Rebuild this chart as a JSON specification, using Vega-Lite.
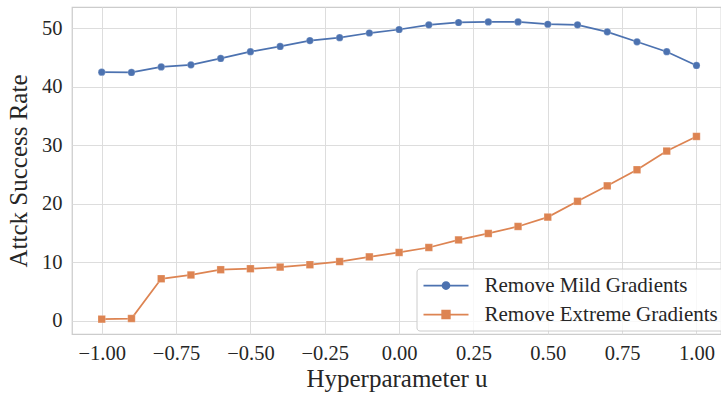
{
  "$schema": "https://vega.github.io/schema/vega-lite/v6.json",
  "width": 649,
  "height": 327,
  "autosize": {"type": "none"},
  "padding": {"left": 72, "top": 7, "right": 0, "bottom": 62},
  "background": "white",
  "config": {
    "font": "Times New Roman, Liberation Serif, serif",
    "view": {"stroke": "#cccccc", "strokeWidth": 1.25},
    "axis": {
      "domain": false,
      "ticks": false,
      "gridColor": "#dddddd",
      "gridWidth": 1,
      "labelColor": "#262626",
      "titleColor": "#262626",
      "labelFont": "Times New Roman, Liberation Serif, serif",
      "titleFont": "Times New Roman, Liberation Serif, serif",
      "labelFontSize": 20.5,
      "titleFontSize": 25,
      "titleFontWeight": "normal"
    },
    "legend": {
      "labelFont": "Times New Roman, Liberation Serif, serif"
    }
  },
  "data": {
    "values": [
      {"u": -1.0, "series": "Remove Mild Gradients", "value": 42.5},
      {"u": -0.9, "series": "Remove Mild Gradients", "value": 42.45},
      {"u": -0.8, "series": "Remove Mild Gradients", "value": 43.4},
      {"u": -0.7, "series": "Remove Mild Gradients", "value": 43.75},
      {"u": -0.6, "series": "Remove Mild Gradients", "value": 44.85},
      {"u": -0.5, "series": "Remove Mild Gradients", "value": 46.0},
      {"u": -0.4, "series": "Remove Mild Gradients", "value": 46.9},
      {"u": -0.3, "series": "Remove Mild Gradients", "value": 47.9},
      {"u": -0.2, "series": "Remove Mild Gradients", "value": 48.4},
      {"u": -0.1, "series": "Remove Mild Gradients", "value": 49.2},
      {"u": 0.0, "series": "Remove Mild Gradients", "value": 49.8},
      {"u": 0.1, "series": "Remove Mild Gradients", "value": 50.6},
      {"u": 0.2, "series": "Remove Mild Gradients", "value": 51.0},
      {"u": 0.3, "series": "Remove Mild Gradients", "value": 51.1},
      {"u": 0.4, "series": "Remove Mild Gradients", "value": 51.1},
      {"u": 0.5, "series": "Remove Mild Gradients", "value": 50.7},
      {"u": 0.6, "series": "Remove Mild Gradients", "value": 50.6},
      {"u": 0.7, "series": "Remove Mild Gradients", "value": 49.4},
      {"u": 0.8, "series": "Remove Mild Gradients", "value": 47.7},
      {"u": 0.9, "series": "Remove Mild Gradients", "value": 46.0},
      {"u": 1.0, "series": "Remove Mild Gradients", "value": 43.65},
      {"u": -1.0, "series": "Remove Extreme Gradients", "value": 0.24},
      {"u": -0.9, "series": "Remove Extreme Gradients", "value": 0.35},
      {"u": -0.8, "series": "Remove Extreme Gradients", "value": 7.15},
      {"u": -0.7, "series": "Remove Extreme Gradients", "value": 7.8},
      {"u": -0.6, "series": "Remove Extreme Gradients", "value": 8.7},
      {"u": -0.5, "series": "Remove Extreme Gradients", "value": 8.87},
      {"u": -0.4, "series": "Remove Extreme Gradients", "value": 9.15},
      {"u": -0.3, "series": "Remove Extreme Gradients", "value": 9.55},
      {"u": -0.2, "series": "Remove Extreme Gradients", "value": 10.1},
      {"u": -0.1, "series": "Remove Extreme Gradients", "value": 10.9},
      {"u": 0.0, "series": "Remove Extreme Gradients", "value": 11.65},
      {"u": 0.1, "series": "Remove Extreme Gradients", "value": 12.5},
      {"u": 0.2, "series": "Remove Extreme Gradients", "value": 13.8},
      {"u": 0.3, "series": "Remove Extreme Gradients", "value": 14.9},
      {"u": 0.4, "series": "Remove Extreme Gradients", "value": 16.1},
      {"u": 0.5, "series": "Remove Extreme Gradients", "value": 17.7},
      {"u": 0.6, "series": "Remove Extreme Gradients", "value": 20.4},
      {"u": 0.7, "series": "Remove Extreme Gradients", "value": 23.05},
      {"u": 0.8, "series": "Remove Extreme Gradients", "value": 25.8},
      {"u": 0.9, "series": "Remove Extreme Gradients", "value": 29.0},
      {"u": 1.0, "series": "Remove Extreme Gradients", "value": 31.5}
    ]
  },
  "encoding": {
    "x": {
      "field": "u", "type": "quantitative",
      "scale": {"domain": [-1.1, 1.0825], "nice": false, "zero": false},
      "axis": {"values": [-1, -0.75, -0.5, -0.25, 0, 0.25, 0.5, 0.75, 1], "format": ".2f", "labelPadding": 9, "titlePadding": 3, "title": "Hyperparameter u", "labelFlush": false}
    },
    "y": {
      "field": "value", "type": "quantitative",
      "scale": {"domain": [-2.3, 53.65], "nice": false, "zero": false},
      "axis": {"values": [0, 10, 20, 30, 40, 50], "labelPadding": 10, "titlePadding": 10, "title": "Attck Success Rate"}
    }
  },
  "layer": [
    {
      "mark": {"type": "line", "strokeWidth": 1.75},
      "encoding": {
        "color": {
          "field": "series", "type": "nominal",
          "scale": {"domain": ["Remove Mild Gradients", "Remove Extreme Gradients"], "range": ["#4c72b0", "#dd8452"]},
          "legend": {
            "title": null,
            "orient": "none",
            "legendX": 344.5,
            "legendY": 261.5,
            "padding": 6,
            "symbolSize": 400,
            "labelOffset": 40,
            "labelLimit": 400,
            "rowPadding": 8,
            "labelFont": "Times New Roman, Liberation Serif, serif",
            "labelFontSize": 21,
            "labelColor": "#262626",
            "fillColor": "rgba(255,255,255,0.8)",
            "strokeColor": "#cccccc",
            "cornerRadius": 3,
            "encode": {
              "symbols": {
                "update": {
                  "shape": {"signal": "datum.value == 'Remove Mild Gradients' ? 'M-1,0H3.5M1.6,0A0.35,0.35,0,1,1,0.9,0A0.35,0.35,0,1,1,1.6,0Z' : 'M-1,0H3.5M0.87,-0.38H1.63V0.38H0.87Z'"},
                  "fill": {"signal": "datum.value == 'Remove Mild Gradients' ? '#4c72b0' : '#dd8452'"},
                  "stroke": {"signal": "datum.value == 'Remove Mild Gradients' ? '#4c72b0' : '#dd8452'"},
                  "strokeWidth": {"value": 1.75},
                  "opacity": {"value": 1},
                  "size": {"value": 400}
                }
              }
            }
          }
        }
      }
    },
    {
      "mark": {"type": "point", "filled": true, "opacity": 1, "strokeWidth": 0.6, "stroke": "white", "strokeOpacity": 0.35},
      "encoding": {
        "fill": {
          "field": "series", "type": "nominal",
          "scale": {"domain": ["Remove Extreme Gradients", "Remove Mild Gradients"], "range": ["#dd8452", "#4c72b0"]},
          "legend": null
        },
        "shape": {
          "field": "series", "type": "nominal",
          "scale": {"domain": ["Remove Extreme Gradients", "Remove Mild Gradients"], "range": ["square", "circle"]},
          "legend": null
        },
        "size": {
          "field": "series", "type": "nominal",
          "scale": {"domain": ["Remove Extreme Gradients", "Remove Mild Gradients"], "range": [56, 52]},
          "legend": null
        }
      }
    }
  ]
}
